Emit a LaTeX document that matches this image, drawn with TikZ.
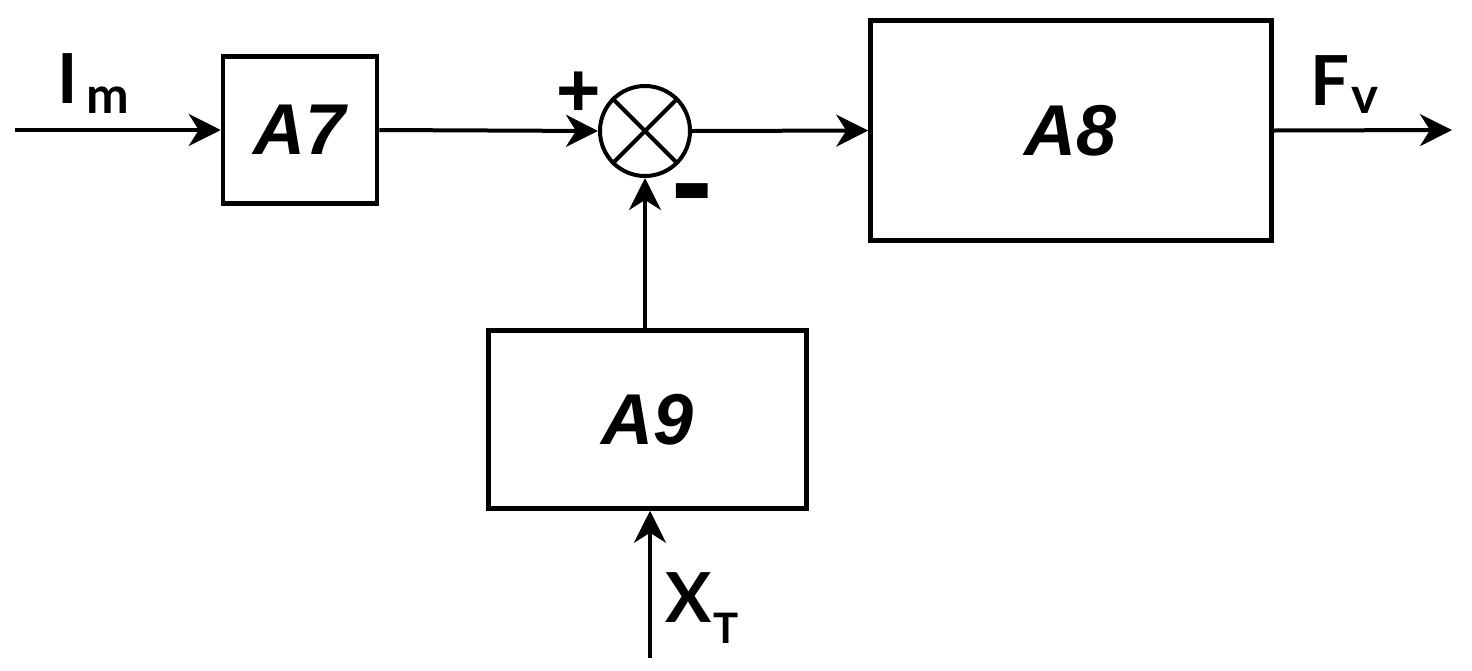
\documentclass[tikz,border=0pt]{standalone}
\usepackage{fontspec}
\setmainfont{Liberation Sans}
\newfontfamily\labelfont{Lato}
\usetikzlibrary{arrows.meta}
\begin{document}
\begin{tikzpicture}[x=1pt,y=-1pt,
  block/.style={draw, line width=4.5pt, inner sep=0pt,
    font=\fontsize{72}{72}\selectfont\bfseries\itshape},
  junction/.style={draw, circle, line width=4pt, inner sep=0pt, minimum size=90pt},
  conn/.style={line width=4pt, -{Stealth[length=32pt,width=32pt,inset=10pt]}},
  sig/.style={font=\labelfont\bfseries\fontsize{69}{69}\selectfont, inner sep=0pt, anchor=base west},
  sgn/.style={font=\bfseries, inner sep=0pt}]
\useasboundingbox (0,0) rectangle (1472,670);

% blocks
\node[block, minimum width=154pt, minimum height=147pt] (a7) at (300,130) {A7};
\node[block, minimum width=401pt, minimum height=220pt] (a8) at (1071,130.5) {A8};
\node[block, minimum width=318pt, minimum height=178pt] (a9) at (647.5,419.5) {A9};

% summing junction
\node[junction] (sum) at (645,131) {};
\draw[line width=4pt] (sum.north west) -- (sum.south east)
                      (sum.north east) -- (sum.south west);

% free ends
\coordinate (in) at (15,130);
\coordinate (out) at (1452,130);
\coordinate (xt) at (650,658);

% connectors
\draw[conn] (in) -- (a7.west);
\draw[conn] (a7.east) -- (sum.west);
\draw[conn] (sum.east) -- (a8.west);
\draw[conn] (a8.east) -- (out);
\draw[conn] (sum.south |- a9.north) -- (sum.south);
\draw[conn] (xt) -- (xt |- a9.south);

% signal labels
\node[sig] (lim) at (57,103) {I\hspace{9pt}\raisebox{-10pt}{\fontsize{51}{51}\selectfont m}};
\node[sig] (lfv) at (1310,105) {F\hspace{2pt}\raisebox{-8pt}{\fontsize{51}{51}\selectfont v}};
\node[sig] (lxt) at (665,622) {X\hspace{2pt}\raisebox{-21pt}{\fontsize{42}{42}\selectfont T}};

% signs at the junction
\node[sgn, font=\bfseries\fontsize{76}{76}\selectfont] (plus) at (579,94) {+};
\node[sgn, font=\bfseries\fontsize{125}{125}\selectfont] (minus) at (692,204) {-};
\end{tikzpicture}
\end{document}
